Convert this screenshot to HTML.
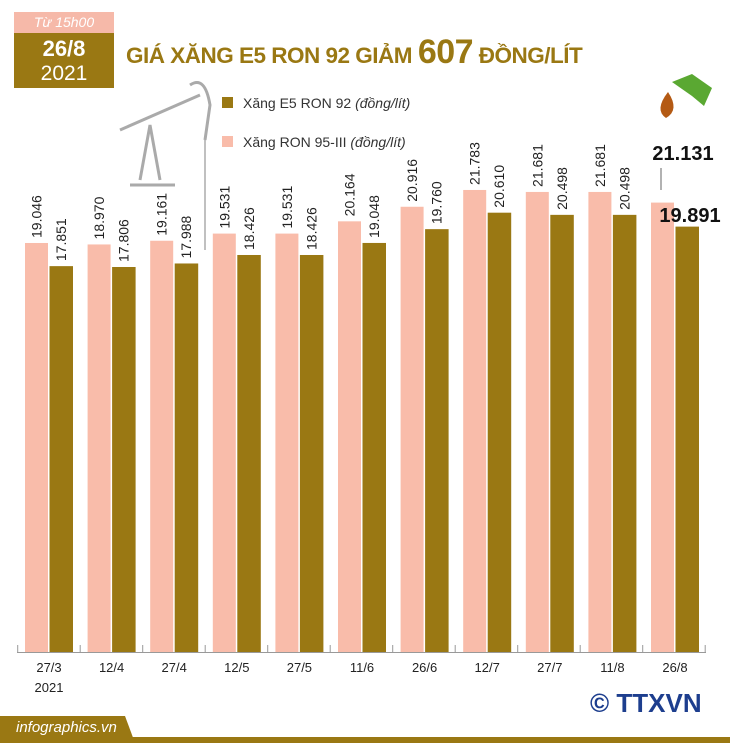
<!DOCTYPE html>
<html><head><meta charset="utf-8"><style>
body{margin:0;width:730px;height:743px;background:#fff;overflow:hidden;font-family:"Liberation Sans",sans-serif;position:relative}
.abs{position:absolute}
</style></head><body>
<div class="abs" style="left:14px;top:12px;width:100px;height:21px;background:#f6b9a9;color:#fff;font-style:italic;font-size:14px;text-align:center;line-height:21px">Từ 15h00</div>
<div class="abs" style="left:14px;top:33px;width:100px;height:55px;background:#9a7813;color:#fff;text-align:center"><div style="font-weight:bold;font-size:22px;margin-top:3px">26/8</div><div style="font-size:21px">2021</div></div>
<div class="abs" style="left:126px;top:33px;color:#9a7813;font-weight:bold;font-size:22.5px;white-space:nowrap;letter-spacing:-0.5px">GIÁ XĂNG E5 RON 92 GIẢM <span style="font-size:34px">607</span> ĐỒNG/LÍT</div>
<div class="abs" style="left:222px;top:95px;font-size:14px;color:#333;white-space:nowrap"><span style="display:inline-block;width:11px;height:11px;background:#9a7813;margin-right:10px"></span>Xăng E5 RON 92 <i>(đồng/lít)</i></div>
<div class="abs" style="left:222px;top:134px;font-size:14px;color:#333;white-space:nowrap"><span style="display:inline-block;width:11px;height:11px;background:#f9bcaa;margin-right:10px"></span>Xăng RON 95-III <i>(đồng/lít)</i></div>
<svg class="abs" style="left:0;top:0" width="730" height="743" id="chart">
<g fill="none" stroke="#aaa" stroke-width="3">
<path d="M120 130 L200 95 M190 85 q15 -10 20 20 L205 140"/><path d="M140 180 L150 125 L160 180 M130 185 H175"/><path d="M205 140 V250" stroke-width="1.5"/>
</g>
<g><path d="M672 82 l20 -8 l20 14 l-8 18 l-12 -10 z" fill="#5aa832"/><path d="M668 92 q-14 18 -2 26 q14 -8 2 -26z" fill="#b45a14"/></g>
</svg>
<div class="abs" style="left:0;top:737px;width:730px;height:6px;background:#9a7813"></div>
<div class="abs" style="left:0;top:716px;width:135px;height:27px;background:#9a7813;color:#fff;font-style:italic;font-size:15px;line-height:24px;padding-left:16px;box-sizing:border-box;clip-path:polygon(0 0,125px 0,135px 100%,0 100%)">infographics.vn</div>
<div class="abs" style="left:590px;top:688px;font-weight:bold;font-size:26px;color:#1d3e8e;white-space:nowrap">© TTXVN</div>
<script>
const categories=["27/3","12/4","27/4","12/5","27/5","11/6","26/6","12/7","27/7","11/8","26/8"];
const ron95=[19046,18970,19161,19531,19531,20164,20916,21783,21681,21681,21131];
const e5=[17851,17806,17988,18426,18426,19048,19760,20610,20498,20498,19891];
const labels95=["19.046","18.970","19.161","19.531","19.531","20.164","20.916","21.783","21.681","21.681","21.131"];
const labelsE5=["17.851","17.806","17.988","18.426","18.426","19.048","19.760","20.610","20.498","20.498","19.891"];
const svg=document.getElementById('chart');const NS='http://www.w3.org/2000/svg';
const base=652,k=0.01937,v0=-2070;
function y(v){return base-(v-v0)*k;}
function x(i){return 25+i*62.6;}
function mk(t,a){const e=document.createElementNS(NS,t);for(const p in a)e.setAttribute(p,a[p]);svg.appendChild(e);return e;}
const ax=mk('line',{x1:17,x2:706,y1:base+0.5,y2:base+0.5,stroke:'#999'});


for(let i=0;i<=11;i++){const t=mk('line',{x1:17.7+i*62.5,x2:17.7+i*62.5,y1:base-7,y2:base,stroke:'#999'});

}
categories.forEach((c,i)=>{
 const last=i===categories.length-1;
 const b1=mk('rect',{x:x(i),y:y(ron95[i]),width:23,height:base-y(ron95[i]),fill:'#f9bcaa'});
 
 
 const b2=mk('rect',{x:x(i)+24.5,y:y(e5[i]),width:23.5,height:base-y(e5[i]),fill:'#9a7813'});
 
 
 const xl=mk('text',{x:x(i)+24,y:672,'text-anchor':'middle','font-size':13,fill:'#222'});xl.textContent=c;
 
 
 if(!last){
  [[ron95[i],labels95[i],x(i)+16.5],[e5[i],labelsE5[i],x(i)+41]].forEach(([v,l,cx])=>{
   const t=mk('text',{x:0,y:0,transform:`translate(${cx},${y(v)-5}) rotate(-90)`,'font-size':14,fill:'#222'});t.textContent=l;
   
   });
 }else{
  const t1=mk('text',{x:683,y:160,'text-anchor':'middle','font-size':20,'font-weight':'bold',fill:'#111'});t1.textContent=labels95[i];
  
  
  const t2=mk('text',{x:690,y:222,'text-anchor':'middle','font-size':20,'font-weight':'bold',fill:'#111'});t2.textContent=labelsE5[i];
  
  
  mk('line',{x1:661,x2:661,y1:168,y2:190,stroke:'#666'});
 }
});
const yr=mk('text',{x:49,y:692,'text-anchor':'middle','font-size':13,fill:'#222'});yr.textContent='2021';


</script>
</body></html>
